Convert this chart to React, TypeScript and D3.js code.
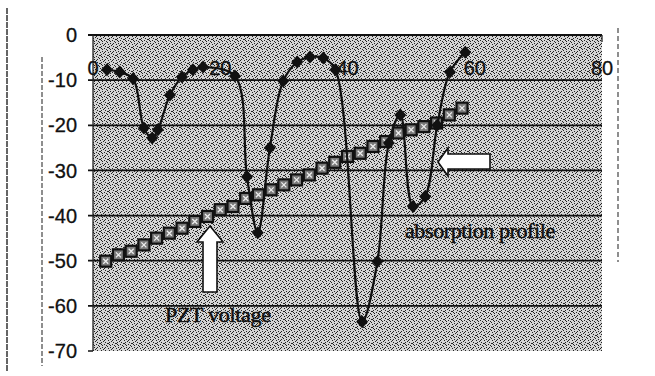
import { useMemo } from "react";
import * as d3 from "d3";

// absorption profile (diamonds)
const absX = [2.2, 4.2, 6.3, 8.0, 9.3, 10.2, 12.1, 14.0, 15.7, 17.3, 22.3, 24.2, 25.9, 27.8, 29.9, 32.1, 34.1, 36.2, 38.1, 42.3, 44.7, 46.5, 48.3, 50.3, 52.2, 54.1, 56.1, 58.5];
const absY = [-7.7, -8.2, -9.7, -20.6, -22.8, -21.0, -13.3, -9.3, -7.7, -7.1, -9.1, -31.4, -43.8, -25.0, -10.2, -6.0, -4.9, -5.1, -7.7, -63.5, -50.2, -23.9, -17.7, -38.0, -35.8, -20.0, -8.2, -3.8];

// PZT voltage (squares)
const pztX = [2, 4, 6, 8, 10, 12, 14, 16, 18, 20, 22, 24, 26, 28, 30, 32, 34, 36, 38, 40, 42, 44, 46, 48, 50, 52, 54, 56, 58];
const pztY = [-50.1, -48.7, -47.9, -46.5, -45.0, -43.9, -42.8, -41.3, -40.2, -38.7, -38.0, -36.2, -35.4, -34.3, -33.2, -32.1, -31.0, -29.5, -28.2, -26.9, -26.2, -24.7, -23.6, -21.7, -21.0, -20.3, -19.5, -17.7, -16.2];

const xTicks = [0, 20, 40, 60, 80];
const yTicks = [0, -10, -20, -30, -40, -50, -60, -70];

const W = 655;
const H = 376;

export default function App() {
  const x = d3.scaleLinear().domain([0, 80]).range([93, 602]);
  const y = d3.scaleLinear().domain([0, -70]).range([35, 351]);

  const absPts = absX.map((v, i) => [v, absY[i]] as [number, number]);
  const pztPts = pztX.map((v, i) => [v, pztY[i]] as [number, number]);

  const absLine = d3.line<[number, number]>()
    .x(d => x(d[0]))
    .y(d => y(d[1]))
    .curve(d3.curveCatmullRom.alpha(0.5));
  const pztLine = d3.line<[number, number]>()
    .x(d => x(d[0]))
    .y(d => y(d[1]));

  const dots = useMemo(() => {
    // halftone-ish dot pattern cell
    const cells: [number, number][] = [[0, 0], [2, 1], [1, 3], [3, 2], [5, 0], [4, 4], [6, 3], [7, 5], [1, 6], [3, 7], [5, 6], [6, 1], [0, 4], [4, 7]];
    return cells;
  }, []);

  const serif = "'Liberation Serif', 'Times New Roman', serif";
  const sans = "'Liberation Sans', Arial, sans-serif";

  return (
    <svg width={W} height={H} viewBox={`0 0 ${W} ${H}`} style={{ position: "absolute", left: 0, top: 0, background: "#fff" }}>
      <defs>
        <pattern id="ht" width={8} height={8} patternUnits="userSpaceOnUse">
          <rect width={8} height={8} fill="#d4d4d4" />
          {dots.map((c, i) => (
            <rect key={i} x={c[0]} y={c[1]} width={1} height={1} fill="#222" />
          ))}
        </pattern>
      </defs>

      {/* scan frame lines */}
      <line x1={7} y1={8} x2={7} y2={372} stroke="#333" strokeWidth={1.5} strokeDasharray="6 1" />
      <line x1={42} y1={57} x2={42} y2={366} stroke="#444" strokeWidth={1.2} strokeDasharray="5 2" />
      <line x1={618} y1={28} x2={618} y2={262} stroke="#444" strokeWidth={1.2} strokeDasharray="5 3" />

      {/* plot area */}
      <rect x={x(0)} y={y(0)} width={x(80) - x(0)} height={y(-70) - y(0)} fill="url(#ht)" />

      {/* grid lines */}
      {yTicks.slice(0, -1).map(t => (
        <line key={t} x1={88} x2={x(80)} y1={y(t)} y2={y(t)} stroke="#111" strokeWidth={1.8} />
      ))}
      <line x1={88} x2={x(0)} y1={y(-70)} y2={y(-70)} stroke="#111" strokeWidth={1.5} />
      <line x1={x(0)} x2={x(0)} y1={y(0)} y2={y(-70)} stroke="#222" strokeWidth={1.3} />
      <line x1={x(80)} x2={x(80)} y1={y(0)} y2={y(0) + 7} stroke="#222" strokeWidth={1.3} />

      {/* y tick labels */}
      {yTicks.map(t => (
        <text key={t} x={77} y={y(t)} dy="0.36em" textAnchor="end" fontFamily={sans} fontSize={20} fill="#111" stroke="#111" strokeWidth={0.3}>
          {t}
        </text>
      ))}

      {/* PZT voltage series */}
      <path d={pztLine(pztPts) ?? ""} fill="none" stroke="#222" strokeWidth={1.5} />
      {pztPts.map((p, i) => (
        <g key={i} transform={`translate(${x(p[0])},${y(p[1])})`}>
          <rect x={-5.5} y={-5.5} width={11} height={11} fill="#7a7a7a" stroke="#111" strokeWidth={2.2} />
          <path d="M-2.5,-2.5L2.5,2.5M-2.5,2.5L2.5,-2.5" stroke="#eee" strokeWidth={1.3} />
        </g>
      ))}

      {/* absorption profile series */}
      <path d={absLine(absPts) ?? ""} fill="none" stroke="#111" strokeWidth={2.2} />
      {absPts.map((p, i) => (
        <path key={i} transform={`translate(${x(p[0])},${y(p[1])})`} d="M0,-6.5L6,0L0,6.5L-6,0Z" fill="#111" />
      ))}

      {/* x tick labels */}
      {xTicks.map(t => (
        <text key={t} x={x(t)} y={68} dy="0.36em" textAnchor="middle" fontFamily={sans} fontSize={20} fill="#111" stroke="#111" strokeWidth={0.3}>
          {t}
        </text>
      ))}

      {/* annotations */}
      <polygon points="210,226 223,242 217,242 217,292 203,292 203,242 197,242" fill="#fff" stroke="#111" strokeWidth={1.6} />
      <polygon points="438,162 448,148 448,154 490,154 490,169 448,169 448,176" fill="#fff" stroke="#111" strokeWidth={1.6} />
      <text x={165} y={322} fontFamily={serif} fontSize={22} fill="#111" stroke="#111" strokeWidth={0.5} letterSpacing={-0.3}>
        PZT voltage
      </text>
      <text x={405} y={238} fontFamily={serif} fontSize={22} fill="#111" stroke="#111" strokeWidth={0.5} letterSpacing={-0.4}>
        absorption profile
      </text>
    </svg>
  );
}
